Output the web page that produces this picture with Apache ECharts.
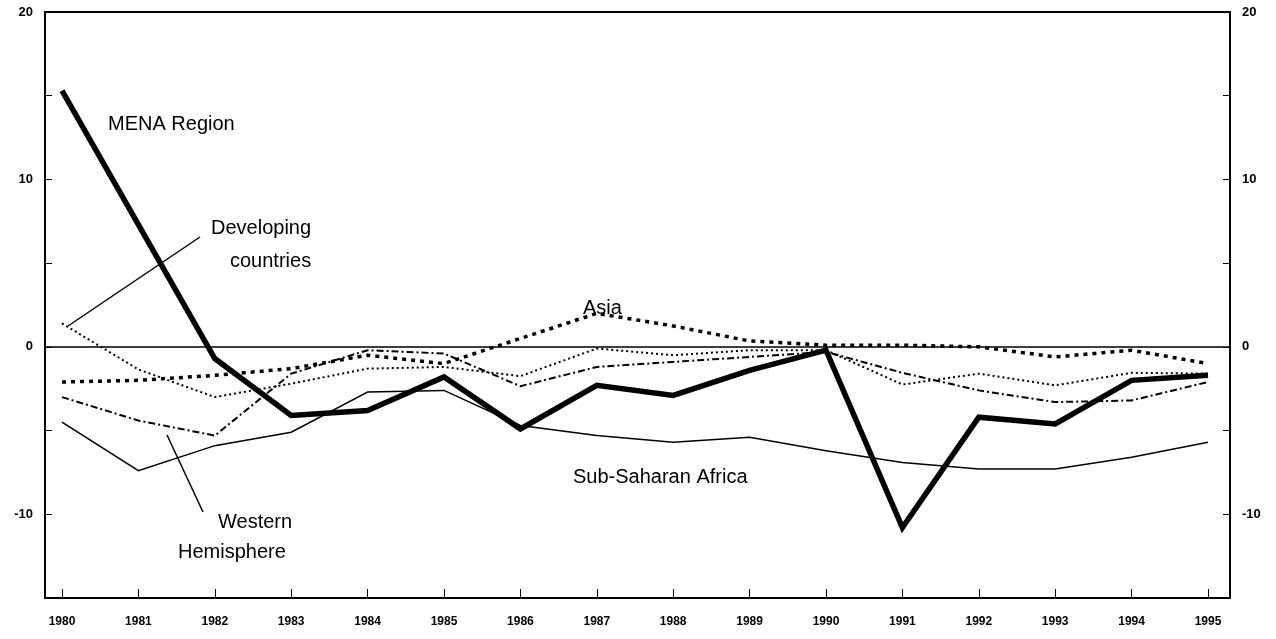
<!DOCTYPE html>
<html>
<head>
<meta charset="utf-8">
<script src="https://cdn.jsdelivr.net/npm/echarts@6/dist/echarts.min.js"></script>
<style>
  html, body { margin: 0; padding: 0; background: #fff; }
  #chart { width: 1276px; height: 639px; }
</style>
</head>
<body>
<div id="chart"></div>
<script>
// years on the x axis
var years = ['1980', '1981', '1982', '1983', '1984', '1985', '1986', '1987',
  '1988', '1989', '1990', '1991', '1992', '1993', '1994', '1995']

// series values
var mena = [15.3, 7.3, -0.7, -4.1, -3.8, -1.8, -4.9, -2.3, -2.9, -1.4, -0.2, -10.8, -4.2, -4.6, -2.0, -1.7]
var subSaharan = [-4.5, -7.4, -5.9, -5.1, -2.7, -2.6, -4.7, -5.3, -5.7, -5.4, -6.2, -6.9, -7.3, -7.3, -6.6, -5.7]
var asia = [-2.1, -2.0, -1.7, -1.3, -0.5, -1.0, 0.5, 2.0, 1.25, 0.35, 0.1, 0.1, 0.0, -0.6, -0.2, -1.0]
var developing = [1.4, -1.35, -3.0, -2.2, -1.3, -1.2, -1.75, -0.1, -0.5, -0.2, -0.2, -2.25, -1.6, -2.3, -1.55, -1.6]
var westernHem = [-3.0, -4.4, -5.3, -1.6, -0.2, -0.4, -2.35, -1.2, -0.9, -0.6, -0.3, -1.55, -2.6, -3.3, -3.2, -2.1]

// y axis range and labelled ticks
var yMin = -15
var yMax = 20
var yStep = 5
var yLabels = [-10, 0, 10, 20]

var font = 'Liberation Sans, Arial, sans-serif'

var chart = echarts.init(document.getElementById('chart'))

function yAxisFor(pos, offset) {
  return {
    type: 'value',
    gridIndex: 0,
    position: pos,
    offset: offset,
    min: yMin,
    max: yMax,
    interval: yStep,
    axisLine: { show: true, lineStyle: { color: '#000', width: 2 } },
    axisTick: { show: true, inside: true, length: 7, lineStyle: { color: '#000', width: 1 } },
    splitLine: { show: false },
    axisLabel: {
      color: '#000',
      fontFamily: font,
      fontWeight: 'bold',
      fontSize: 13,
      margin: 12,
      formatter: function(v) {
        return yLabels.indexOf(v) >= 0 ? String(v) : ''
      }
    }
  }
}

function lineSeries(name, data, width, type) {
  return {
    name: name,
    type: 'line',
    xAxisIndex: 0,
    yAxisIndex: 0,
    data: data,
    showSymbol: false,
    symbol: 'none',
    lineStyle: { color: '#000', width: width, type: type, cap: 'butt', join: 'miter' },
    z: 3
  }
}

function label(text, left, top) {
  return {
    type: 'text',
    left: left,
    top: top,
    z: 10,
    style: { text: text, fill: '#000', font: '20px ' + font }
  }
}

chart.setOption({
  animation: false,
  backgroundColor: '#fff',
  grid: [
    // data area: first and last year sit a little inside the frame
    { left: 62, top: 12, width: 1146, height: 586, containLabel: false },
    // frame of the plot
    { left: 45, top: 12, width: 1185, height: 586, show: true, borderColor: '#000', borderWidth: 2, backgroundColor: 'transparent' }
  ],
  xAxis: [
    {
      type: 'category',
      gridIndex: 0,
      data: years,
      boundaryGap: false,
      axisLine: { show: false, onZero: false },
      axisTick: { show: true, inside: true, length: 9, alignWithLabel: true, lineStyle: { color: '#000', width: 1 } },
      splitLine: { show: false },
      axisLabel: { color: '#000', fontFamily: font, fontWeight: 'bold', fontSize: 12, margin: 18 }
    },
    {
      // zero line across the frame
      type: 'value',
      gridIndex: 1,
      min: 0,
      max: 1,
      axisLine: { show: true, onZero: true, lineStyle: { color: '#000', width: 1.5 } },
      axisTick: { show: false },
      axisLabel: { show: false },
      splitLine: { show: false }
    }
  ],
  yAxis: [
    yAxisFor('left', 17),
    yAxisFor('right', 22),
    {
      type: 'value',
      gridIndex: 1,
      min: yMin,
      max: yMax,
      show: false,
      splitLine: { show: false }
    }
  ],
  series: [
    lineSeries('Sub-Saharan Africa', subSaharan, 1.5, 'solid'),
    lineSeries('Developing countries', developing, 2, [2, 3]),
    lineSeries('Western Hemisphere', westernHem, 2, [7, 3, 2, 3]),
    lineSeries('Asia', asia, 3.5, [4, 5]),
    lineSeries('MENA Region', mena, 5.5, 'solid')
  ],
  graphic: [
    label('MENA Region', 108, 114),
    label('Developing', 211, 218),
    label('countries', 230, 251),
    label('Asia', 583, 298),
    label('Sub-Saharan Africa', 573, 467),
    label('Western', 218, 512),
    label('Hemisphere', 178, 542),
    // leader lines from labels to series
    { type: 'line', z: 10, shape: { x1: 68, y1: 326, x2: 200, y2: 237 }, style: { stroke: '#000', lineWidth: 1.5 } },
    { type: 'line', z: 10, shape: { x1: 167, y1: 435, x2: 203, y2: 512 }, style: { stroke: '#000', lineWidth: 1.5 } }
  ]
})
</script>
</body>
</html>
